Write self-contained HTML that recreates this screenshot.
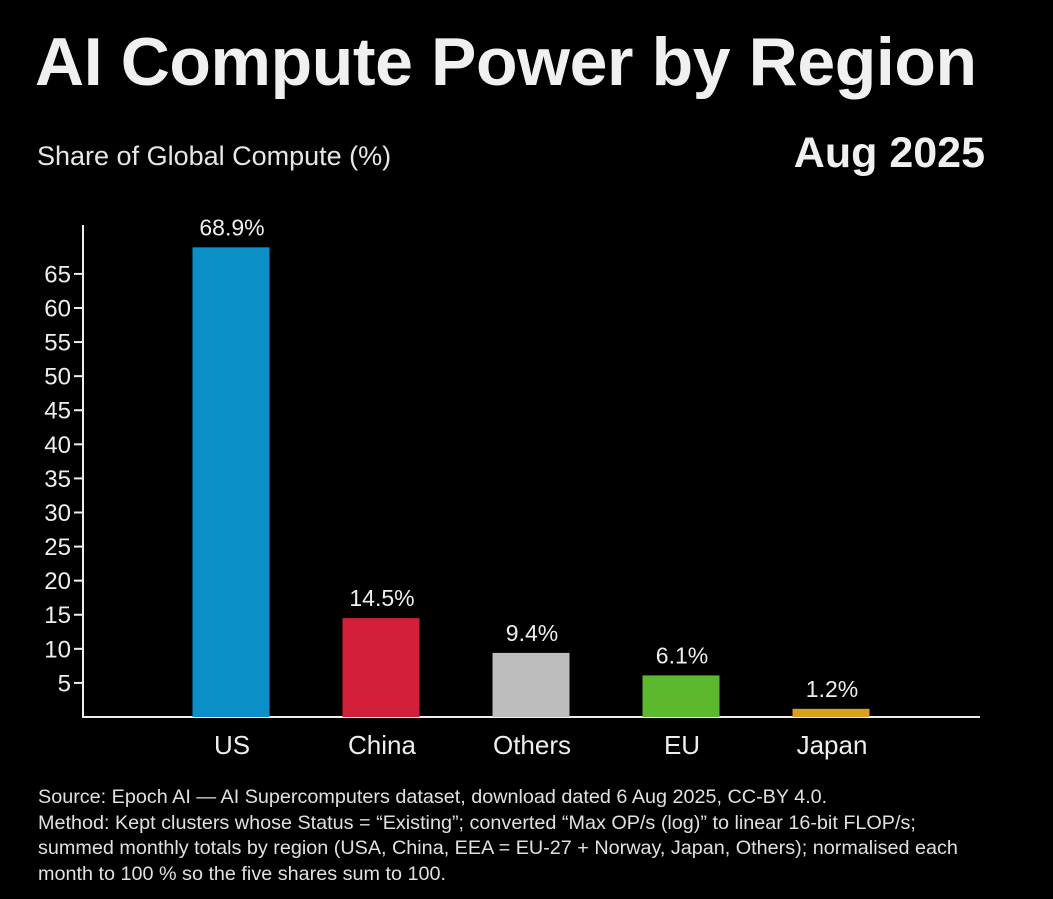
<!DOCTYPE html>
<html><head><meta charset="utf-8"><style>
html,body{margin:0;padding:0;background:#000;width:1053px;height:899px;overflow:hidden;font-family:"Liberation Sans",sans-serif;color:#f0f0f0}
#title{position:absolute;left:35px;top:23px;font-size:68px;font-weight:bold;letter-spacing:-0.4px;margin:0;white-space:nowrap}
#sub{position:absolute;left:37px;top:141px;font-size:27px;color:#e6e6e6}
#date{position:absolute;right:68px;top:129px;font-size:43px;font-weight:bold}
#notes{position:absolute;left:38px;top:785px;font-size:19.8px;line-height:25.5px;color:#e0e0e0;white-space:nowrap}
svg{position:absolute;left:0;top:0}
</style></head><body>
<h1 id="title">AI Compute Power by Region</h1>
<div id="sub">Share of Global Compute (%)</div>
<div id="date">Aug 2025</div>
<svg id="chart" width="1053" height="899"></svg>
<div id="notes">Source: Epoch AI — AI Supercomputers dataset, download dated 6 Aug 2025, CC-BY 4.0.<br>Method: Kept clusters whose Status = “Existing”; converted “Max OP/s (log)” to linear 16-bit FLOP/s;<br>summed monthly totals by region (USA, China, EEA = EU-27 + Norway, Japan, Others); normalised each<br>month to 100 % so the five shares sum to 100.</div>
<script>
const categories=["US","China","Others","EU","Japan"];
const values=[68.9,14.5,9.4,6.1,1.2];
const valueLabels=["68.9%","14.5%","9.4%","6.1%","1.2%"];
const colors=["#0a8fc6","#d3203a","#bdbdbd","#5cb82c","#d6a11c"];
const yTicks=[5,10,15,20,25,30,35,40,45,50,55,60,65];
const svg=document.getElementById('chart');
const NS='http://www.w3.org/2000/svg';
const y0=717, k=6.817, axisX=83;
function y(v){return y0-v*k;}
function x(i){return 231+i*150;}
function mk(t,a,txt){const e=document.createElementNS(NS,t);for(const n in a)e.setAttribute(n,a[n]);if(txt!=null)e.textContent=txt;svg.appendChild(e);return e;}
let e=mk('line',{x1:axisX,y1:225,x2:axisX,y2:y0,stroke:'#eee','stroke-width':2});


e=mk('line',{x1:axisX-1,y1:y0,x2:980,y2:y0,stroke:'#eee','stroke-width':2});


yTicks.forEach(t=>{
  let l=mk('line',{x1:axisX-9,y1:y(t),x2:axisX,y2:y(t),stroke:'#eee','stroke-width':2});
  
  
  let tx=mk('text',{x:axisX-12,y:y(t)+8.5,'text-anchor':'end','font-size':24,fill:'#eee'},t);
  
  
});
categories.forEach((c,i)=>{
  let r=mk('rect',{x:x(i)-38.5,y:y(values[i]),width:77,height:values[i]*k,fill:colors[i]});
  
  
  let v=mk('text',{x:x(i)+1,y:y(values[i])-12,'text-anchor':'middle','font-size':23,fill:'#eee'},valueLabels[i]);
  
  
  let cl=mk('text',{x:x(i)+1,y:754,'text-anchor':'middle','font-size':26,fill:'#eee'},c);
  
  
});
</script>
</body></html>
